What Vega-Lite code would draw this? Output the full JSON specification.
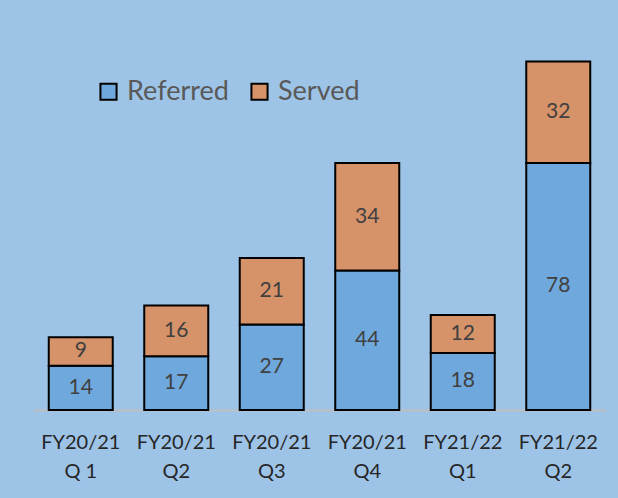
{
  "$schema": "https://vega.github.io/schema/vega-lite/v6.json",
  "autosize": "none",
  "padding": {"left": 33, "top": 14, "right": 12, "bottom": 88},
  "width": 573,
  "height": 396,
  "background": "#9DC3E6",
  "config": {
    "view": {"stroke": null},
    "font": "Lato"
  },
  "data": {
    "values": [
      {"quarter": "FY20/21|Q 1", "type": "Referred", "count": 14},
      {"quarter": "FY20/21|Q 1", "type": "Served", "count": 9},
      {"quarter": "FY20/21|Q2", "type": "Referred", "count": 17},
      {"quarter": "FY20/21|Q2", "type": "Served", "count": 16},
      {"quarter": "FY20/21|Q3", "type": "Referred", "count": 27},
      {"quarter": "FY20/21|Q3", "type": "Served", "count": 21},
      {"quarter": "FY20/21|Q4", "type": "Referred", "count": 44},
      {"quarter": "FY20/21|Q4", "type": "Served", "count": 34},
      {"quarter": "FY21/22|Q1", "type": "Referred", "count": 18},
      {"quarter": "FY21/22|Q1", "type": "Served", "count": 12},
      {"quarter": "FY21/22|Q2", "type": "Referred", "count": 78},
      {"quarter": "FY21/22|Q2", "type": "Served", "count": 32}
    ]
  },
  "transform": [
    {"stack": "count", "groupby": ["quarter"], "sort": [{"field": "type", "order": "ascending"}], "as": ["y0", "y1"]},
    {"calculate": "(datum.y0 + datum.y1) / 2", "as": "ymid"}
  ],
  "encoding": {
    "x": {
      "field": "quarter", "type": "nominal", "sort": null,
      "scale": {"paddingInner": 0.33, "paddingOuter": 0.165},
      "axis": {
        "title": null, "labelAngle": 0, "ticks": false,
        "labelExpr": "split(datum.label, '|')",
        "labelFontSize": 20, "labelColor": "#262626", "labelLineHeight": 29,
        "labelPadding": 22, "labelBaseline": "top",
        "domainColor": "#BFBFBF", "domainWidth": 2, "grid": false
      }
    }
  },
  "layer": [
    {
      "mark": {"type": "bar", "stroke": "#000000", "strokeWidth": 2},
      "encoding": {
        "y": {"field": "y0", "type": "quantitative", "scale": {"domain": [0, 125], "nice": false}, "axis": null},
        "y2": {"field": "y1"},
        "color": {
          "field": "type", "type": "nominal",
          "scale": {"domain": ["Referred", "Served"], "range": ["#6FA8DC", "#D69268"]},
          "legend": {
            "title": null, "orient": "none", "direction": "horizontal",
            "legendX": 62, "legendY": 64,
            "symbolType": "square", "symbolSize": 260, "symbolStrokeColor": "#000000", "symbolStrokeWidth": 2,
            "symbolOpacity": 1,
            "labelFontSize": 27, "labelColor": "#595959", "columnPadding": 17, "labelOffset": 5
          }
        }
      }
    },
    {
      "mark": {"type": "text", "fontSize": 21, "color": "#404040", "baseline": "middle"},
      "encoding": {
        "y": {"field": "ymid", "type": "quantitative"},
        "text": {"field": "count", "type": "quantitative"}
      }
    }
  ]
}
